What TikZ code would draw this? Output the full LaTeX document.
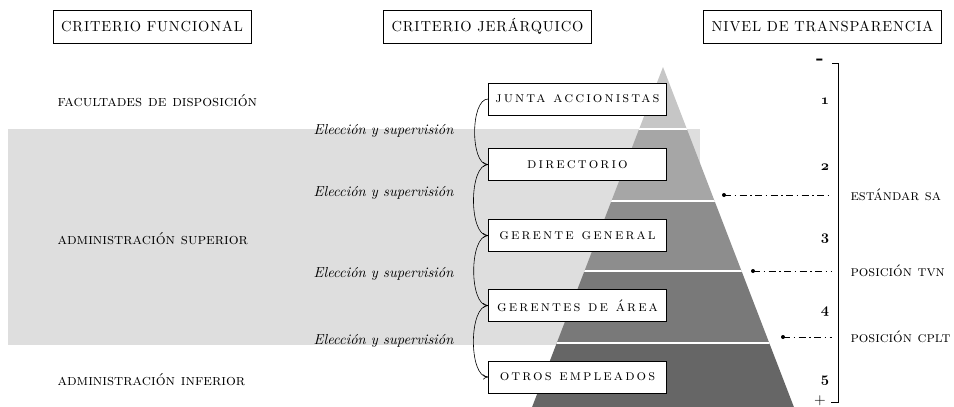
\documentclass[tikz,border=0pt]{standalone}
\usepackage{fontspec}
\setmainfont{lmroman10-regular.otf}[
  ItalicFont=lmroman10-italic.otf,
  BoldFont=lmroman10-bold.otf,
  SmallCapsFont=lmromancaps10-regular.otf]
\usepackage{tikz}
\usetikzlibrary{arrows.meta,positioning,calc}

\definecolor{bandgray}{HTML}{DEDEDE}
\definecolor{layA}{HTML}{C6C6C6}
\definecolor{layB}{HTML}{A6A6A6}
\definecolor{layC}{HTML}{8D8D8D}
\definecolor{layD}{HTML}{797979}
\definecolor{layE}{HTML}{666666}

% old style figures from the math italic font
\newcommand{\vieja}[1]{{\usefont{OML}{cmm}{b}{it}#1}}

\tikzset{
  header/.style={draw, line width=0.6pt, minimum height=33pt, inner xsep=8pt,
    font=\fontsize{14.5}{16}\selectfont\addfontfeature{LetterSpace=6}},
  rank/.style={draw, line width=0.8pt, fill=white, minimum width=178pt, minimum height=32pt,
    inner xsep=2pt, font=\fontsize{15}{16}\selectfont\scshape\addfontfeature{LetterSpace=14}},
  funcion/.style={anchor=west, font=\fontsize{15.5}{16}\selectfont\scshape},
  eleccion/.style={anchor=east, font=\fontsize{14.5}{15}\selectfont\itshape},
  nivel/.style={font=\fontsize{15}{16}\selectfont},
  marca/.style={anchor=west, font=\fontsize{15}{16}\selectfont\scshape},
  flecha/.style={-{To[length=5pt,width=5pt]}, line width=0.6pt},
  corte/.style={line width=0.6pt, dash pattern=on 7pt off 3.5pt on 1.5pt off 3.5pt},
}

\begin{document}
\begin{tikzpicture}[x=1pt, y=-1pt]
  \useasboundingbox (0,0) rectangle (954,407);
  % pyramid: apex and half slope
  \pgfmathsetmacro{\apx}{663}
  \pgfmathsetmacro{\apy}{67}
  \pgfmathsetmacro{\k}{0.385}

  % band behind the pyramid
  \fill[bandgray] (8,129) rectangle (700,345);

  \begin{scope}
    \clip (\apx,\apy) -- ({\apx+\k*(407-\apy)},407) -- ({\apx-\k*(407-\apy)},407) -- cycle;
    \fill[layA] (450,60) rectangle (850,129);
    \fill[layB] (450,129) rectangle (850,201);
    \fill[layC] (450,201) rectangle (850,271);
    \fill[layD] (450,271) rectangle (850,343);
    \fill[layE] (450,343) rectangle (850,410);
    \foreach \y in {129,201,271,343}
      \draw[white, line width=2pt] (450,\y) -- (850,\y);
  \end{scope}

  % headers
  \node[header] (funcional) at (152,26.5) {CRITERIO FUNCIONAL};
  \node[header] (jerarquico) at (487.5,26.5) {CRITERIO JERÁRQUICO};
  \node[header] (transparencia) at (822.5,26.5) {NIVEL DE TRANSPARENCIA};

  % functional criterion
  \node[funcion] (facultades) at (54,101) {facultades de disposición};
  \node[funcion] (superior) at (54,239) {administración superior};
  \node[funcion] (inferior) at (54,380) {administración inferior};

  % hierarchy
  \node[rank] (junta) at (577.5,99) {junta accionistas};
  \node[rank] (directorio) at (577.5,164.5) {directorio};
  \node[rank] (gerente) at (577.5,235.5) {gerente general};
  \node[rank] (gerentes) at (577.5,305.5) {gerentes de área};
  \node[rank] (otros) at (577.5,377) {otros empleados};

  \draw[flecha] (junta.west) to[out=180,in=180,looseness=0.7] (directorio.west);
  \draw[flecha] (directorio.west) to[out=180,in=180,looseness=0.7] (gerente.west);
  \draw[flecha] (gerente.west) to[out=180,in=180,looseness=0.7] (gerentes.west);
  \draw[flecha] (gerentes.west) to[out=180,in=180,looseness=0.7] (otros.west);

  \node[eleccion] (eleccionA) at (457,131) {Elección y supervisión};
  \node[eleccion] (eleccionB) at (457,193) {Elección y supervisión};
  \node[eleccion] (eleccionC) at (457,274) {Elección y supervisión};
  \node[eleccion] (eleccionD) at (457,341) {Elección y supervisión};

  % transparency levels
  \node[nivel] (nivA) at (825,101) {\vieja{1}};
  \node[nivel] (nivB) at (825,167) {\vieja{2}};
  \node[nivel] (nivC) at (825,239) {\vieja{3}};
  \node[nivel] (nivD) at (825,312) {\vieja{4}};
  \node[nivel] (nivE) at (825,381) {\vieja{5}};

  \coordinate (llaveA) at (838,63);
  \coordinate (llaveB) at (838,402);
  \draw[line width=0.7pt] ($(llaveA)+(-6,0)$) -- (llaveA) -- (llaveB) -- ($(llaveB)+(-7,0)$);
  \node[inner sep=0pt, font=\fontsize{20}{20}\selectfont\bfseries] (menos) at (820,62) {-};
  \node[nivel, inner sep=0pt] (mas) at (820,401) {+};

  % cut lines
  \node[marca] (estandar) at (847,195) {estándar sa};
  \node[marca] (tvn) at (847,271) {posición tvn};
  \node[marca] (cplt) at (847,337) {posición cplt};

  \coordinate (puntoA) at (724,195);
  \coordinate (puntoB) at (753,271);
  \coordinate (puntoC) at (783,337);
  \foreach \p/\m in {puntoA/estandar,puntoB/tvn,puntoC/cplt}{
    \fill (\p) circle (2pt);
    \draw[corte] (\p) -- ($(\p -| llaveA)+(-6,0)$);
  }
\end{tikzpicture}
\end{document}
